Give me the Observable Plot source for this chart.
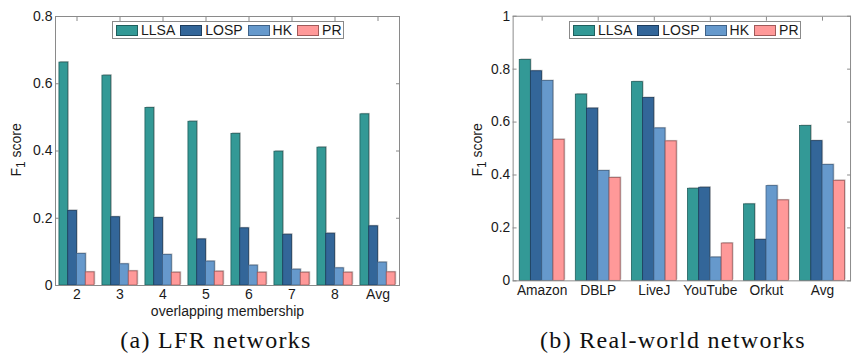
<!DOCTYPE html>
<html>
<head>
<meta charset="utf-8">
<script src="https://cdn.jsdelivr.net/npm/d3@7"></script>
<script src="https://cdn.jsdelivr.net/npm/@observablehq/plot@0.6"></script>
<style>
  html, body { margin: 0; padding: 0; background: #fff; }
  #page { position: relative; width: 853px; height: 354px; overflow: hidden; font-family: "Liberation Sans", Arial, sans-serif; }
  .panel { position: absolute; top: 0; }
  .legend { position: absolute; display: flex; align-items: center; border: 1px solid #8a8a8a; background: #fff; height: 16px; box-sizing: border-box; padding-left: 3px; font-size: 14px; color: #1a1a1a; }
  .legend .item { display: flex; align-items: center; margin-right: 5px; }
  .legend .sw { width: 22px; height: 11px; box-sizing: border-box; border: 1px solid #333; margin-right: 3px; }
  .ylabel { position: absolute; transform: rotate(-90deg); transform-origin: center; font-size: 14px; color: #1a1a1a; white-space: nowrap; }
  .ylabel sub { font-size: 12px; }
  .caption { position: absolute; font-family: "Liberation Serif", "DejaVu Serif", serif; font-size: 24px; line-height: 24px; letter-spacing: 1.3px; color: #111; white-space: nowrap; transform: translateX(-50%); }
</style>
</head>
<body>
<div id="page"></div>
<script>
// ---- data ----
const series = ["LLSA", "LOSP", "HK", "PR"];
const colors = ["#339996", "#336699", "#6699cc", "#ff9999"];
const strokes = ["#1f5f5d", "#1d3d5e", "#3f6288", "#a05a5a"];

const lfrCategories = ["2", "3", "4", "5", "6", "7", "8", "Avg"];
const lfrLLSA = [0.663, 0.624, 0.528, 0.487, 0.451, 0.398, 0.410, 0.509];
const lfrLOSP = [0.222, 0.203, 0.201, 0.137, 0.170, 0.151, 0.154, 0.176];
const lfrHK   = [0.094, 0.063, 0.091, 0.071, 0.059, 0.047, 0.051, 0.068];
const lfrPR   = [0.039, 0.042, 0.038, 0.041, 0.038, 0.038, 0.038, 0.039];
const lfrYTicks = [0, 0.2, 0.4, 0.6, 0.8];

const realCategories = ["Amazon", "DBLP", "LiveJ", "YouTube", "Orkut", "Avg"];
const realLLSA = [0.835, 0.704, 0.751, 0.348, 0.289, 0.585];
const realLOSP = [0.792, 0.651, 0.691, 0.352, 0.155, 0.528];
const realHK   = [0.755, 0.415, 0.576, 0.088, 0.358, 0.438];
const realPR   = [0.533, 0.389, 0.527, 0.141, 0.304, 0.378];
const realYTicks = [0, 0.2, 0.4, 0.6, 0.8, 1];

function makeChart({categories, values, yTicks, yMax, width, marginLeft, marginRight, pad, xLabel}) {
  const height = 320, marginTop = 16, marginBottom = 35;
  const bw = (width - marginLeft - marginRight) / categories.length;
  const step = bw / (series.length + 2 * pad);
  const rows = [];
  categories.forEach((c, j) => series.forEach((s, i) => rows.push({category: c, series: s, i, value: values[i][j]})));
  const marks = [];
  series.forEach((s, i) => {
    const data = rows.filter(r => r.series === s);
    const insetLeft = pad * step + i * step;
    const insetRight = bw - pad * step - (i + 1) * step;
    marks.push(Plot.barY(data, {x: "category", y: "value", insetLeft, insetRight, dx: 1.2, dy: -1, fill: "#c4c4c4"}));
    marks.push(Plot.barY(data, {x: "category", y: "value", insetLeft, insetRight, fill: colors[i], stroke: strokes[i], strokeWidth: 0.8}));
  });
  marks.push(Plot.frame({stroke: "#8a8a8a"}));
  marks.push(Plot.axisY({anchor: "left", ticks: yTicks, tickSize: 0, tickPadding: 3, tickFormat: d => String(d), label: null, color: "#1a1a1a"}));
  marks.push(Plot.axisY({anchor: "left", ticks: yTicks, tickSize: -4, tickFormat: () => "", label: null, stroke: "#8a8a8a"}));
  marks.push(Plot.axisY({anchor: "right", ticks: yTicks, tickSize: -4, tickFormat: () => "", label: null, stroke: "#8a8a8a"}));
  marks.push(Plot.axisX({anchor: "top", tickSize: -4, tickFormat: () => "", label: null, stroke: "#8a8a8a"}));
  marks.push(Plot.axisX({anchor: "bottom", tickSize: 0, tickPadding: 4, label: xLabel, labelAnchor: "center", labelOffset: 30, color: "#1a1a1a"}));
  return Plot.plot({
    width, height, marginTop, marginBottom, marginLeft, marginRight,
    style: {fontFamily: "Liberation Sans, Arial, sans-serif", fontSize: "14px", color: "#1a1a1a", background: "transparent", overflow: "visible"},
    x: {type: "band", domain: categories, paddingInner: 0, paddingOuter: 0, axis: null},
    y: {domain: [0, yMax], axis: null},
    marks
  });
}

function makeLegend(left) {
  const lg = document.createElement("div");
  lg.className = "legend";
  lg.style.left = left + "px";
  lg.style.top = "21px";
  lg.style.width = "232px";
  lg.style.height = "18px";
  series.forEach((s, i) => {
    const it = document.createElement("div");
    it.className = "item";
    const sw = document.createElement("div");
    sw.className = "sw";
    sw.style.background = colors[i];
    sw.style.borderColor = strokes[i];
    const tx = document.createElement("span");
    tx.textContent = s;
    it.appendChild(sw); it.appendChild(tx);
    lg.appendChild(it);
  });
  return lg;
}

const page = document.getElementById("page");

const left = document.createElement("div");
left.className = "panel"; left.style.left = "0px";
left.appendChild(makeChart({categories: lfrCategories, values: [lfrLLSA, lfrLOSP, lfrHK, lfrPR], yTicks: lfrYTicks, yMax: 0.8, width: 430, marginLeft: 55, marginRight: 31, pad: 0.45, xLabel: "overlapping membership"}));
page.appendChild(left);

const right = document.createElement("div");
right.className = "panel"; right.style.left = "430px";
right.appendChild(makeChart({categories: realCategories, values: [realLLSA, realLOSP, realHK, realPR], yTicks: realYTicks, yMax: 1, width: 430, marginLeft: 84, marginRight: 3, pad: 0.5, xLabel: null}));
page.appendChild(right);

page.appendChild(makeLegend(112));
page.appendChild(makeLegend(569));

function yLabel(cx, cy) {
  const d = document.createElement("div");
  d.className = "ylabel";
  d.innerHTML = "F<sub>1</sub> score";
  page.appendChild(d);
  const w = d.offsetWidth, h = d.offsetHeight;
  d.style.left = (cx - w / 2) + "px";
  d.style.top = (cy - h / 2) + "px";
}
yLabel(17, 150);
yLabel(478, 150);

function caption(text, cx, top) {
  const d = document.createElement("div");
  d.className = "caption";
  d.textContent = text;
  d.style.left = cx + "px";
  d.style.top = top + "px";
  page.appendChild(d);
}
caption("(a) LFR networks", 216, 328);
caption("(b) Real-world networks", 673, 328);
</script>
</body>
</html>
